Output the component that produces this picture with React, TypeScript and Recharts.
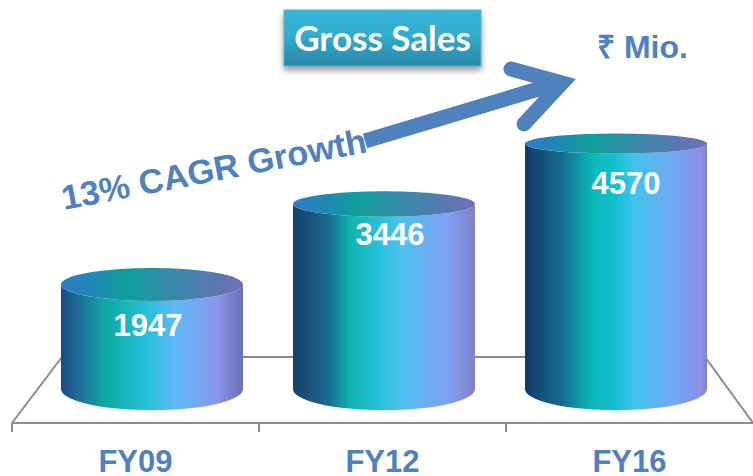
import { Bar, BarChart, LabelList, XAxis, YAxis } from "recharts";

const categories = ["FY09", "FY12", "FY16"];
const grossSales = [1947, 3446, 4570];

const chartData = categories.map((name, i) => ({ name, value: grossSales[i] }));

const BLUE = "#4f81bd";
const GREY = "#8c8c8c";
const BAND = 247;

// side of each can, left to right
const bodyStops = [
  [[0, "#1b4a80"], [0.13, "#1e7a9f"], [0.25, "#0eaba5"], [0.47, "#25c0d8"], [0.63, "#5fb8f8"], [0.86, "#8a96ea"], [1, "#6a70b8"]],
  [[0, "#173f6c"], [0.2, "#1a6c90"], [0.31, "#0fb3ad"], [0.47, "#25c2d8"], [0.6, "#4fc0f0"], [0.85, "#80a0f0"], [1, "#8080c8"]],
  [[0, "#143a63"], [0.2, "#156a90"], [0.37, "#0ab8b8"], [0.5, "#14c0d0"], [0.6, "#40c4ec"], [0.8, "#6eaaf4"], [0.97, "#8a90e6"], [1, "#8080c8"]],
];
const lidStops = [
  [0, "#2f7cc4"],
  [0.18, "#1f88b4"],
  [0.36, "#0e9f9a"],
  [0.62, "#3a88aa"],
  [0.85, "#5a78b0"],
  [1, "#7070b8"],
];

// label position relative to the top of each can
const labelNudge = [
  { dx: -4, dy: 41 },
  { dx: 6, dy: 30 },
  { dx: 10, dy: 39 },
];

// lid gets flatter the higher up it sits
const ellipseRy = (y: number) => (y + 77) * 0.0455;

function Cylinder(props: any) {
  const { x, y, width, height, index } = props;
  const rx = width / 2;
  const ryTop = ellipseRy(y);
  const ryBottom = ellipseRy(y + height);
  const body = [
    `M${x},${y}`,
    `L${x},${y + height}`,
    `A${rx},${ryBottom} 0 0 0 ${x + width},${y + height}`,
    `L${x + width},${y}`,
    `A${rx},${ryTop} 0 0 1 ${x},${y}`,
    "Z",
  ].join(" ");
  return (
    <g>
      <path d={body} fill={`url(#body${index})`} />
      <ellipse cx={x + rx} cy={y} rx={rx} ry={ryTop} fill="url(#lid)" />
    </g>
  );
}

function ValueLabel(props: any) {
  const { x, y, width, value, index } = props;
  const nudge = labelNudge[index];
  return (
    <text
      x={x + width / 2 + nudge.dx}
      y={y + nudge.dy + 11}
      textAnchor="middle"
      fill="#ffffff"
      fontFamily="Liberation Sans"
      fontWeight="bold"
      fontSize={31}
    >
      {value}
    </text>
  );
}

function CategoryTick(props: any) {
  const { x, payload } = props;
  const left = x - BAND / 2;
  return (
    <g>
      <line x1={left} x2={left} y1={423} y2={432} stroke={GREY} strokeWidth={2} />
      <text
        x={x}
        y={472}
        textAnchor="middle"
        fill={BLUE}
        fontFamily="Liberation Sans"
        fontWeight="bold"
        fontSize={31}
      >
        {payload.value}
      </text>
    </g>
  );
}

export default function App() {
  return (
    <div style={{ position: "absolute", left: 0, top: 0, width: 753, height: 476, overflow: "hidden", background: "#fff" }}>
      <svg width={753} height={476} style={{ position: "absolute", left: 0, top: 0 }}>
        <defs>
          <linearGradient id="titleFill" x1="0" y1="0" x2="0" y2="1">
            <stop offset="0" stopColor="#35b4d8" />
            <stop offset="0.45" stopColor="#33acce" />
            <stop offset="1" stopColor="#2a87a6" />
          </linearGradient>
        </defs>
        <polyline points="12,423 62,357 705,357 753,423" fill="none" stroke={GREY} strokeWidth={2} />
        <rect
          x={284}
          y={10}
          width={197}
          height={56}
          fill="url(#titleFill)"
          stroke="#5cb6cf"
          style={{ filter: "drop-shadow(0 4px 3px rgba(0,0,0,0.4))" }}
        />
        <text x={382.5} y={51} textAnchor="middle" fill="#fff" fontFamily="Lato" fontWeight="bold" fontSize={35}>
          Gross Sales
        </text>
        <text x={597} y={58} fill={BLUE} fontFamily="Liberation Sans" fontWeight="bold" fontSize={32}>
          ₹ Mio.
        </text>
        <path d="M365,141 L562,82" stroke={BLUE} strokeWidth={15} fill="none" />
        <path d="M511,69 L562,83 L524,124" stroke={BLUE} strokeWidth={15} strokeLinecap="round" fill="none" />
        <text
          x={64}
          y={210}
          transform="rotate(-10.8 64 210)"
          fill={BLUE}
          fontFamily="Liberation Sans"
          fontWeight="bold"
          fontSize={34.4}
        >
          13% CAGR Growth
        </text>
      </svg>
      <div style={{ position: "absolute", left: 0, top: 0 }}>
        <BarChart width={753} height={476} data={chartData} margin={{ top: 0, right: 0, bottom: 0, left: 12 }}>
          <defs>
            {bodyStops.map((stops, i) => (
              <linearGradient key={i} id={`body${i}`} x1="0" y1="0" x2="1" y2="0">
                {stops.map(([offset, color]) => (
                  <stop key={offset as number} offset={offset as number} stopColor={color as string} />
                ))}
              </linearGradient>
            ))}
            <linearGradient id="lid" x1="0" y1="0" x2="1" y2="0">
              {lidStops.map(([offset, color]) => (
                <stop key={offset as number} offset={offset as number} stopColor={color as string} />
              ))}
            </linearGradient>
          </defs>
          <XAxis xAxisId="bars" dataKey="name" hide height={0} padding={{ left: 24, right: 21 }} />
          <XAxis
            xAxisId="labels"
            dataKey="name"
            height={53}
            stroke={GREY}
            strokeWidth={2}
            tickLine={false}
            tickMargin={0}
            interval={0}
            tick={<CategoryTick />}
          />
          <YAxis hide domain={[-633, 7244]} />
          <Bar xAxisId="bars" dataKey="value" barSize={182} shape={<Cylinder />} isAnimationActive={false}>
            <LabelList dataKey="value" content={<ValueLabel />} />
          </Bar>
        </BarChart>
      </div>
    </div>
  );
}
